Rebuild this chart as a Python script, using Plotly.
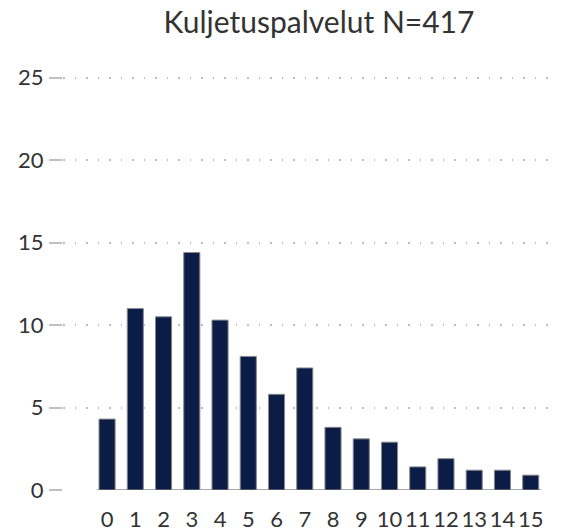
import plotly.graph_objects as go

title_text = "Kuljetuspalvelut N=417"
categories = [str(i) for i in range(16)]
values = [4.3, 11.0, 10.5, 14.4, 10.3, 8.1, 5.8, 7.4, 3.8, 3.1, 2.9, 1.4, 1.9, 1.2, 1.2, 0.9]
y_ticks = [0, 5, 10, 15, 20, 25]

FONT = "Lato"

fig = go.Figure()
fig.add_trace(go.Bar(
    x=categories, y=values,
    marker=dict(color="#0b1d47", line=dict(color="#8a8a8a", width=1)),
    hoverinfo="x+y",
))

fig.add_shape(type="line", xref="x", yref="y",
              x0=-0.36, x1=len(categories) - 1 + 0.36, y0=0, y1=0,
              line=dict(color="#a8a8a8", width=2), layer="below")

fig.update_layout(
    width=562, height=532,
    margin=dict(l=63, r=7, t=76, b=42),
    paper_bgcolor="white", plot_bgcolor="white",
    bargap=0.43,
    showlegend=False,
    font=dict(family=FONT, color="#333333", size=22),
    title=dict(text=title_text, x=319 / 562, xanchor="center",
               y=1 - 22 / 532, yanchor="middle",
               font=dict(family=FONT, size=30, color="#333333")),
    xaxis=dict(type="category", range=[-1.56, 15.86], automargin=False,
               showgrid=False, showline=False, zeroline=False,
               ticks="", ticklabelstandoff=14,
               tickfont=dict(size=22, color="#333333")),
    yaxis=dict(range=[0, 25.1], tickvals=y_ticks, automargin=False,
               showgrid=True, gridcolor="#bcbcbc", gridwidth=1.5,
               griddash="1.5px,10px",
               zeroline=False, showline=False,
               ticks="outside", ticklen=13, tickwidth=2, tickcolor="#bfbfbf",
               ticklabelstandoff=1,
               tickfont=dict(size=22, color="#333333")),
)

fig.write_html("out.html", config={"displayModeBar": False},
               post_script="document.body.style.margin='0';")
